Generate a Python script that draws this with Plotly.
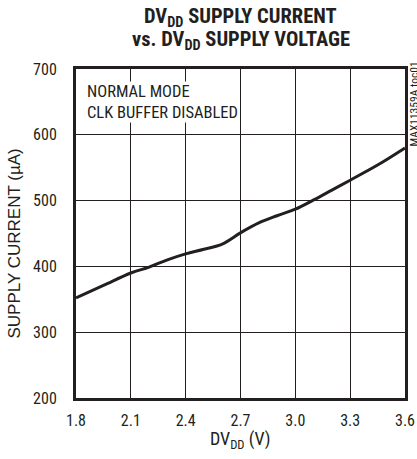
import plotly.graph_objects as go

voltage = [1.8, 1.95, 2.1, 2.2, 2.3, 2.4, 2.5, 2.6, 2.7, 2.8, 2.9, 3.0, 3.1, 3.2, 3.3, 3.45, 3.6]
current = [352, 371, 390, 399, 410, 419, 426, 434, 451, 466, 477, 487, 501, 516, 531, 554, 580]

x_ticks = [1.8, 2.1, 2.4, 2.7, 3.0, 3.3, 3.6]
x_tick_labels = ["1.8", "2.1", "2.4", "2.7", "3.0", "3.3", "3.6"]
y_ticks = [200, 300, 400, 500, 600, 700]

FONT = "Roboto Condensed, Liberation Sans Narrow, Arial Narrow, sans-serif"
WIDE = "Liberation Sans, Arial, sans-serif"
INK = "#231f20"

fig = go.Figure()
fig.add_trace(go.Scatter(x=voltage, y=current, mode="lines",
                         line=dict(color=INK, width=3, shape="spline"),
                         showlegend=False, hoverinfo="skip"))

fig.update_layout(
    width=417, height=459,
    margin=dict(l=76, r=12, t=69, b=61),
    paper_bgcolor="white", plot_bgcolor="white",
    font=dict(family=FONT, size=16, color=INK),
    xaxis=dict(
        range=[1.8, 3.6], tickvals=x_ticks, ticktext=x_tick_labels,
        showgrid=True, gridcolor=INK, gridwidth=1,
        showline=True, linecolor=INK, linewidth=3, mirror=True,
        ticks="outside", ticklen=6, tickcolor="rgba(0,0,0,0)", zeroline=False,
        tickfont=dict(size=16), automargin=False,
    ),
    yaxis=dict(
        range=[200, 700], tickvals=y_ticks,
        showgrid=True, gridcolor=INK, gridwidth=1,
        showline=True, linecolor=INK, linewidth=3, mirror=True,
        ticks="outside", ticklen=13, tickcolor="rgba(0,0,0,0)", zeroline=False,
        tickfont=dict(size=16), automargin=False,
    ),
)

# Chart title
fig.add_annotation(
    xref="paper", yref="paper", x=0.5, y=1.0, yshift=52, xanchor="center", yanchor="middle",
    text="<b>DV<sub>DD</sub> SUPPLY CURRENT</b>", showarrow=False,
    font=dict(family=FONT, size=20.5, color=INK),
)
fig.add_annotation(
    xref="paper", yref="paper", x=0.5, y=1.0, yshift=29, xanchor="center", yanchor="middle",
    text="<b>vs. DV<sub>DD</sub> SUPPLY VOLTAGE</b>", showarrow=False,
    font=dict(family=FONT, size=20.5, color=INK),
)

# Axis titles
fig.add_annotation(
    xref="paper", yref="paper", x=0.5, y=0.0, yshift=-42, xanchor="center", yanchor="middle",
    text="DV<sub>DD</sub> (V)", showarrow=False,
    font=dict(family=FONT, size=18, color=INK),
)
fig.add_annotation(
    xref="paper", yref="paper", x=0.0, y=0.5, xshift=-62, yshift=-10, xanchor="center", yanchor="middle",
    text="SUPPLY CURRENT (µA)", textangle=-90, showarrow=False,
    font=dict(family=WIDE, size=17, color=INK),
)

# Condition note
fig.add_annotation(
    xref="paper", yref="paper", x=0.03, y=1.0, yshift=-12, xanchor="left", yanchor="top",
    text="NORMAL MODE<br>CLK BUFFER DISABLED", showarrow=False, align="left",
    font=dict(family=FONT, size=16.5, color=INK), bgcolor="white", borderpad=0,
)
# Figure id
fig.add_annotation(
    xref="paper", yref="paper", x=1.0, y=1.0, yshift=9, xanchor="center", yanchor="top",
    xshift=8, text="MAX11359A toc01", textangle=-90, showarrow=False,
    font=dict(family=FONT, size=11.5, color=INK),
)

fig.write_html(
    "out.html",
    config={"displayModeBar": False},
    post_script="document.body.style.margin='0';document.documentElement.style.overflow='hidden';",
)
